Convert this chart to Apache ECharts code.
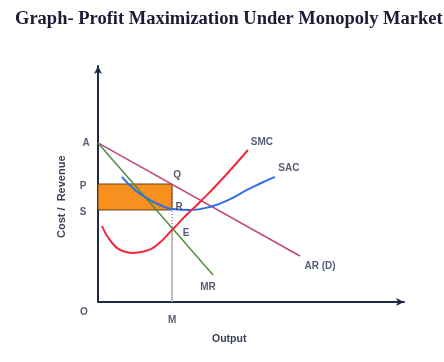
<!DOCTYPE html>
<html>
<head>
<meta charset="utf-8">
<script src="https://cdn.jsdelivr.net/npm/echarts@6/dist/echarts.min.js"></script>
<style>html,body{margin:0;padding:0;background:#fff;}#c{width:444px;height:362px;}</style>
</head>
<body>
<div id="c"></div>
<script>
// Data (output, cost/revenue in arbitrary units)
var titleText = 'Graph- Profit Maximization Under Monopoly Market';
var xName = 'Output';
var yName = 'Cost /  Revenue';
var arLine = [[0, 67.4], [66, 19.5]];
var mrLine = [[0, 67.4], [37.6, 11.4]];
var smcCurve = [[1.3, 32.2], [4.5, 25.2], [8.5, 21.4], [11.2, 20.8], [15, 21.4], [19.3, 24.2], [24.2, 30.5], [28.4, 36.2], [34, 43.2], [41.5, 53.4], [49, 64.4]];
var sacCurve = [[7.8, 53], [12.1, 47.5], [17, 43.2], [20.3, 41.1], [24.2, 39.4], [30, 39], [37.6, 40.7], [43, 43.5], [48.7, 47.5], [53, 50.2], [57.8, 53]];
var qOutput = 24.2;   // M
var priceP = 50;      // P (= Q)
var costS = 39;       // S (= R)
var eLevel = 30.8;    // E
var pointLabels = ['A', 'P', 'S', 'Q', 'R', 'E', 'O', 'M'];
var curveLabels = ['SMC', 'SAC', 'AR (D)', 'MR'];

var navy = '#1e2a4a';
var lblFont = {fontFamily: 'Liberation Sans, Arial, sans-serif', fontWeight: 'bold', fontSize: 10, color: '#2a3352'};

function lab(pt, text, off) {
  return {value: pt, label: Object.assign({show: true, formatter: text, position: 'inside', offset: off}, lblFont)};
}

var labelData = [
  lab(arLine[0], pointLabels[0], [-12, 0]),
  lab([0, priceP], pointLabels[1], [-15, 2]),
  lab([0, costS], pointLabels[2], [-15, 2]),
  lab([qOutput, priceP], pointLabels[3], [5, -9]),
  lab([qOutput, costS], pointLabels[4], [7, -3]),
  lab([qOutput, eLevel], pointLabels[5], [14, 4]),
  lab([0, 0], pointLabels[6], [-14, 10]),
  lab([qOutput, 0], pointLabels[7], [0, 18]),
  lab(smcCurve[smcCurve.length - 1], curveLabels[0], [14, -8]),
  lab(sacCurve[sacCurve.length - 1], curveLabels[1], [14, -9]),
  lab(arLine[1], curveLabels[2], [20, 10]),
  lab(mrLine[1], curveLabels[3], [-5, 12])
];

var chart = echarts.init(document.getElementById('c'));
chart.setOption({
  animation: false,
  title: {text: titleText, left: 10, top: 5,
    textStyle: {fontFamily: 'Liberation Serif, serif', fontWeight: 'bold', fontSize: 18.5, color: '#1c1c36'}},
  grid: {left: 98, top: 66, width: 306, height: 236, containLabel: false},
  xAxis: {type: 'value', min: 0, max: 100, splitLine: {show: false}, axisTick: {show: false}, axisLabel: {show: false},
    axisLine: {lineStyle: {color: navy, width: 2}, symbol: ['none', 'arrow'], symbolSize: [6, 8]}},
  yAxis: {type: 'value', min: 0, max: 100, splitLine: {show: false}, axisTick: {show: false}, axisLabel: {show: false},
    axisLine: {lineStyle: {color: navy, width: 2}, symbol: ['none', 'arrow'], symbolSize: [6, 8]}},
  graphic: [
    {type: 'text', left: 212, top: 334, style: Object.assign({text: xName}, lblFont, {fill: '#3a3f55', fontSize: 10.5})},
    {type: 'text', x: 56, y: 238, rotation: Math.PI / 2, style: Object.assign({text: yName}, lblFont, {fill: '#3a3f55', fontSize: 11})}
  ],
  series: [
    {type: 'line', data: [[0, costS], [qOutput, costS]], symbol: 'none', lineStyle: {width: 0, opacity: 0}, silent: true,
      markArea: {silent: true, itemStyle: {color: '#f7901e', borderColor: '#6b3a10', borderWidth: 1},
        data: [[{coord: [0, priceP]}, {coord: [qOutput, costS]}]]}},
    {type: 'line', data: [[qOutput, priceP], [qOutput, eLevel]], symbol: 'none', lineStyle: {color: '#555', width: 1, type: [1, 2]}},
    {type: 'line', data: [[qOutput, eLevel], [qOutput, 0]], symbol: 'none', lineStyle: {color: '#a8a8a8', width: 1.5}},
    {type: 'line', data: arLine, symbol: 'none', lineStyle: {color: '#c0457c', width: 1.5}},
    {type: 'line', data: mrLine, symbol: 'none', lineStyle: {color: '#4f8f3e', width: 1.5}},
    {type: 'line', data: sacCurve, symbol: 'none', smooth: true, lineStyle: {color: '#2f6fe6', width: 2}},
    {type: 'line', data: smcCurve, symbol: 'none', smooth: true, lineStyle: {color: '#ee2a3c', width: 2}},
    {type: 'scatter', data: labelData, symbolSize: 0, clip: false, z: 10}
  ]
});
</script>
</body>
</html>
